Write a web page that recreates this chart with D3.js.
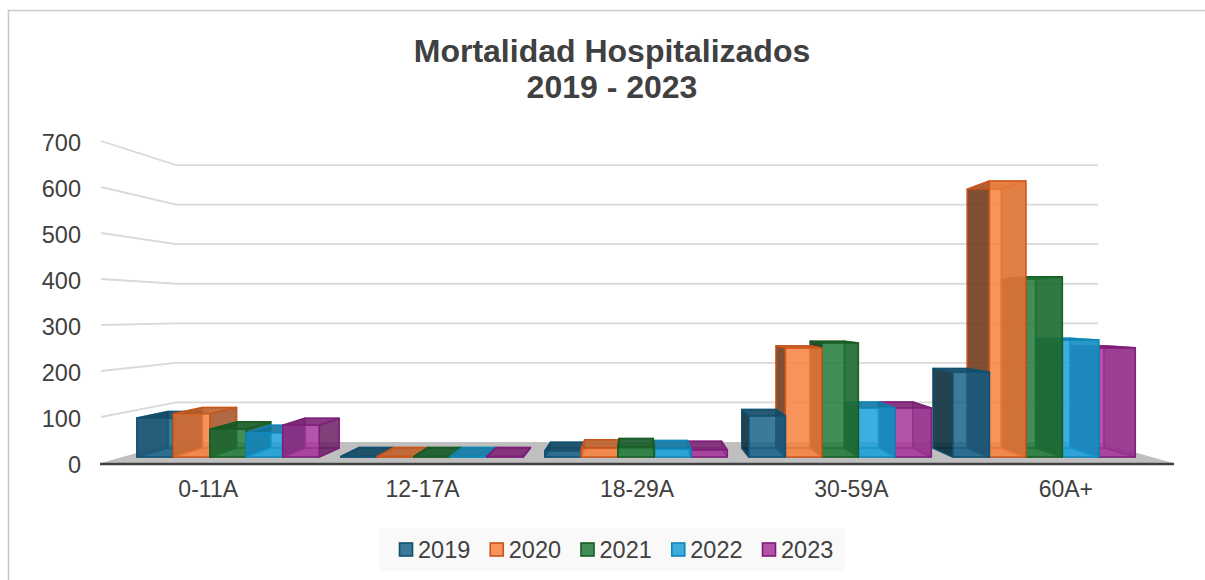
<!DOCTYPE html>
<html>
<head>
<meta charset="utf-8">
<script src="https://cdn.jsdelivr.net/npm/d3@7"></script>
<style>
  html, body { margin: 0; padding: 0; background: #fff; }
  svg { display: block; }
  text { font-family: "Liberation Sans", Arial, sans-serif; fill: #404040; }
</style>
</head>
<body>
<svg id="chart" width="1205" height="580"></svg>
<script>
const categories = ['0-11A', '12-17A', '18-29A', '30-59A', '60A+'];
const years = ['2019', '2020', '2021', '2022', '2023'];
const yTicks = [0, 100, 200, 300, 400, 500, 600, 700];

// one value per category
const v2019 = [88, 1, 14, 93, 192];
const v2020 = [98, 1, 20, 247, 625];
const v2021 = [63, 1, 23, 258, 408];
const v2022 = [55, 1, 18, 111, 265];
const v2023 = [72, 1, 16, 111, 247];
const seriesValues = [v2019, v2020, v2021, v2022, v2023];

const faceColors = ['#1b6287', '#f7813f', '#22793a', '#1b9fd8', '#a5369a'];
const edgeColors = ['#12506f', '#c8541a', '#165c22', '#0f86b8', '#7d1d78'];

const svg = d3.select('#chart');

// frame, the right side is cut off in the original
svg.append('path')
    .attr('d', 'M8.5,580V10.5H1205')
    .attr('fill', 'none').attr('stroke', '#c9c9c9').attr('stroke-width', 1.6);

// title
const title = svg.append('text').attr('text-anchor', 'middle')
    .style('font-size', '32px').style('font-weight', 'bold');
title.append('tspan').attr('x', 612).attr('y', 62).text('Mortalidad Hospitalizados');
title.append('tspan').attr('x', 612).attr('y', 98).text('2019 - 2023');

// scales are for the front plane of the box, depth is handled by project()
const y = d3.scaleLinear().domain([0, 700]).range([463, 141]);
const xLabels = d3.scaleBand().domain(categories).range([101, 1173]);
const xCat = d3.scaleBand().domain(categories).range([104.75, 1167.25]);
const xBar = d3.scaleBand().domain(d3.range(years.length))
    .range([0, 190]);

const vanish = [637, 313];
const backScale = 0.86;
const barFront = 0.96, barBack = 0.90;

function project(px, py, s) {
    return [vanish[0] + (px - vanish[0]) * s, vanish[1] + (py - vanish[1]) * s];
}
const toPath = pts => 'M' + pts.map(p => p[0].toFixed(2) + ',' + p[1].toFixed(2)).join('L') + 'Z';

// floor
const floor = [project(101, y(0), 1), project(1173, y(0), 1), project(1173, y(0), backScale), project(101, y(0), backScale)];
svg.append('path').attr('d', toPath(floor)).attr('fill', '#bfbfbf');

// gridlines run from the left tick along the side wall and then along the back wall
const grid = svg.append('g').attr('fill', 'none').attr('stroke', '#d9d9d9').attr('stroke-width', 1.8);
yTicks.forEach(t => {
    const a = project(101, y(t), 1), b = project(101, y(t), backScale), c = project(1173, y(t), backScale);
    if (t > 0) grid.append('path').attr('d', 'M' + a + 'L' + b + 'L' + c);
});

// bars, far from the vanishing point first
const bars = [];
seriesValues.forEach((vals, si) => {
    vals.forEach((v, ci) => {
        const left = xCat(categories[ci]) + xCat.bandwidth() / 2 - 95 + xBar(si);
        bars.push({ si, ci, v, left, right: left + xBar.bandwidth() });
    });
});
bars.sort((a, b) => Math.abs(b.left + 19 - vanish[0]) - Math.abs(a.left + 19 - vanish[0]));

const barGroups = svg.append('g').selectAll('g').data(bars).enter().append('g')
    .attr('stroke-linejoin', 'round');

barGroups.each(function (d) {
    const g = d3.select(this);
    const top = y(d.v), bot = y(0);
    const fbl = project(d.left, bot, barFront), fbr = project(d.right, bot, barFront);
    const ftl = project(d.left, top, barFront), ftr = project(d.right, top, barFront);
    const bbl = project(d.left, bot, barBack), bbr = project(d.right, bot, barBack);
    const btl = project(d.left, top, barBack), btr = project(d.right, top, barBack);
    const base = faceColors[d.si], edge = edgeColors[d.si];
    const faces = [
        { pts: [bbl, bbr, btr, btl], fill: base, op: 0.5 },
        { pts: [fbl, fbr, bbr, bbl], fill: base, op: 0.6 },
        { pts: [fbl, bbl, btl, ftl], fill: d3.color(base).darker(2.6), op: 0.8 },
        { pts: [fbr, bbr, btr, ftr], fill: d3.color(base).darker(1.4), op: 0.75 },
        { pts: [ftl, ftr, btr, btl], fill: d3.color(base).darker(0.8), op: 0.85 },
        { pts: [fbl, fbr, ftr, ftl], fill: base, op: 0.7 }
    ];
    faces.forEach(f => {
        g.append('path').attr('d', toPath(f.pts))
            .attr('fill', f.fill).attr('fill-opacity', f.op)
            .attr('stroke', edge).attr('stroke-width', 1.6).attr('stroke-opacity', 0.8);
    });
});

// x axis line
svg.append('line').attr('x1', 100).attr('x2', 1174).attr('y1', y(0) + 1).attr('y2', y(0) + 1)
    .attr('stroke', '#404040').attr('stroke-width', 2.6);

// axis labels
const yAxis = svg.append('g').attr('transform', 'translate(81,2)')
    .call(d3.axisLeft(y).tickValues(yTicks).tickSize(0).tickPadding(0));
yAxis.select('.domain').remove();
yAxis.selectAll('text').style('font-size', '23.5px').style('font-family', '"Liberation Sans", Arial, sans-serif').attr('fill', '#404040');

const xAxis = svg.append('g').attr('transform', 'translate(0,481)')
    .call(d3.axisBottom(xLabels).tickSize(0).tickPadding(0));
xAxis.select('.domain').remove();
xAxis.selectAll('text').style('font-size', '23px').style('font-family', '"Liberation Sans", Arial, sans-serif').attr('fill', '#404040');

// legend
svg.append('rect').attr('x', 379).attr('y', 528).attr('width', 466).attr('height', 43).attr('fill', '#f9f9f9');
const legendX = d3.scalePoint().domain(years).range([399, 762]);
const legend = svg.append('g').selectAll('g').data(years).enter().append('g')
    .attr('transform', d => 'translate(' + legendX(d) + ',550)');
legend.append('rect').attr('x', 0.5).attr('y', -7).attr('width', 13).attr('height', 13)
    .attr('fill', (d, i) => faceColors[i]).attr('fill-opacity', 0.85)
    .attr('stroke', (d, i) => edgeColors[i]).attr('stroke-width', 1.6);
legend.append('text').attr('x', 19).attr('y', 8).style('font-size', '23.5px').text(d => d);
</script>
</body>
</html>
